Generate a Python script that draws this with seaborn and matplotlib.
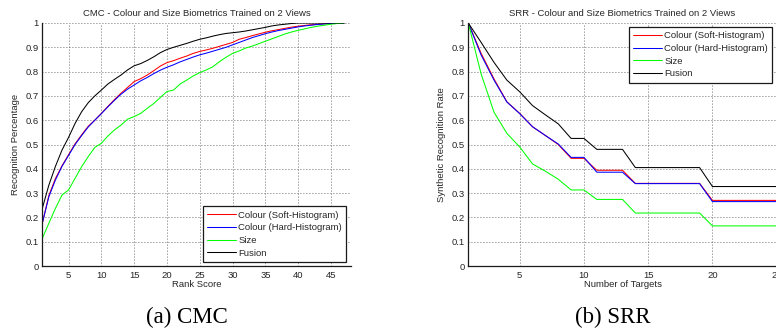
import numpy as np
import pandas as pd
import matplotlib
matplotlib.use("Agg")
import matplotlib.pyplot as plt
from matplotlib.lines import Line2D
import seaborn as sns

# ---------------- data ----------------
series_names = ["Colour (Soft-Histogram)", "Colour (Hard-Histogram)", "Size", "Fusion"]
series_colors = ["#ff0000", "#0000ff", "#00ff00", "#000000"]

cmc_rank = list(range(1, 48))
cmc_soft = [0.176, 0.29, 0.36, 0.412, 0.458, 0.503, 0.54, 0.575, 0.60, 0.628,
            0.657, 0.685, 0.711, 0.735, 0.759, 0.771, 0.786, 0.804, 0.823, 0.837,
            0.845, 0.855, 0.864, 0.875, 0.883, 0.889, 0.896, 0.904, 0.912, 0.92,
            0.933, 0.94, 0.948, 0.955, 0.962, 0.968, 0.973, 0.978, 0.983, 0.987,
            0.99, 0.993, 0.995, 0.997, 0.998, 0.999, 1.0]
cmc_hard = [0.176, 0.285, 0.354, 0.41, 0.455, 0.50, 0.537, 0.572, 0.60, 0.627,
            0.655, 0.682, 0.707, 0.728, 0.745, 0.762, 0.776, 0.792, 0.806, 0.818,
            0.828, 0.84, 0.85, 0.86, 0.869, 0.876, 0.884, 0.892, 0.90, 0.91,
            0.92, 0.93, 0.94, 0.948, 0.956, 0.963, 0.969, 0.974, 0.979, 0.984,
            0.988, 0.991, 0.994, 0.996, 0.998, 0.999, 1.0]
cmc_size = [0.114, 0.176, 0.237, 0.292, 0.313, 0.361, 0.409, 0.45, 0.488, 0.505,
            0.535, 0.56, 0.58, 0.604, 0.615, 0.628, 0.649, 0.669, 0.694, 0.718,
            0.724, 0.749, 0.765, 0.782, 0.796, 0.807, 0.82, 0.841, 0.859, 0.875,
            0.885, 0.897, 0.905, 0.915, 0.925, 0.935, 0.945, 0.955, 0.963, 0.97,
            0.976, 0.982, 0.987, 0.991, 0.995, 0.998, 1.0]
cmc_fusion = [0.237, 0.333, 0.41, 0.477, 0.529, 0.587, 0.635, 0.672, 0.70, 0.724,
              0.749, 0.768, 0.786, 0.807, 0.824, 0.833, 0.846, 0.861, 0.878, 0.891,
              0.90, 0.908, 0.916, 0.925, 0.933, 0.939, 0.946, 0.952, 0.957, 0.96,
              0.963, 0.967, 0.972, 0.977, 0.982, 0.988, 0.992, 0.995, 0.998, 1.0,
              1.0, 1.0, 1.0, 1.0, 1.0, 1.0, 1.0]

srr_targets = list(range(1, 26))
srr_soft = [1.0, 0.875, 0.77, 0.676, 0.628, 0.573, 0.537, 0.50, 0.443, 0.443,
            0.394, 0.394, 0.394, 0.34, 0.34, 0.34, 0.34, 0.34, 0.34,
            0.27, 0.27, 0.27, 0.27, 0.27, 0.27]
srr_hard = [1.0, 0.868, 0.765, 0.675, 0.627, 0.573, 0.537, 0.502, 0.447, 0.447,
            0.386, 0.386, 0.386, 0.339, 0.339, 0.339, 0.339, 0.339, 0.339,
            0.265, 0.265, 0.265, 0.265, 0.265, 0.265]
srr_size = [1.0, 0.79, 0.633, 0.546, 0.49, 0.42, 0.39, 0.357, 0.313, 0.313,
            0.274, 0.274, 0.274, 0.218, 0.218, 0.218, 0.218, 0.218, 0.218,
            0.165, 0.165, 0.165, 0.165, 0.165, 0.165]
srr_fusion = [1.0, 0.92, 0.838, 0.765, 0.717, 0.66, 0.622, 0.585, 0.525, 0.525,
              0.48, 0.48, 0.48, 0.405, 0.405, 0.405, 0.405, 0.405, 0.405,
              0.327, 0.327, 0.327, 0.327, 0.327, 0.327]

y_ticks = [0, 0.1, 0.2, 0.3, 0.4, 0.5, 0.6, 0.7, 0.8, 0.9, 1]
y_tick_labels = ["0", "0.1", "0.2", "0.3", "0.4", "0.5", "0.6", "0.7", "0.8", "0.9", "1"]
cmc_x_ticks = [5, 10, 15, 20, 25, 30, 35, 40, 45]
srr_x_ticks = [5, 10, 15, 20, 25]

# ---------------- style ----------------
sns.set_theme(style="white")
plt.rcParams["font.family"] = ["Liberation Sans", "DejaVu Sans"]
FS = 6.8
TXT = "#262626"
LW = 0.75

W, H = 776, 332
fig = plt.figure(figsize=(W / 100, H / 100), dpi=100)


def long_df(x, cols):
    frames = []
    for name, vals in zip(series_names, cols):
        frames.append(pd.DataFrame({"x": x, "y": vals, "series": name}))
    return pd.concat(frames, ignore_index=True)


def make_axes(left_px, title, xlabel, ylabel, df, xlim, xticks, legend_loc):
    ax = fig.add_axes([left_px / W, (H - 266) / H, 308.4 / W, 243 / H])
    sns.lineplot(data=df, x="x", y="y", hue="series", hue_order=series_names,
                 palette=series_colors, ax=ax, legend=False, linewidth=LW,
                 errorbar=None, sort=False)
    ax.set_xlim(*xlim)
    ax.set_ylim(0, 1)
    ax.set_xticks(xticks)
    ax.set_xticklabels([str(t) for t in xticks])
    ax.set_yticks(y_ticks)
    ax.set_yticklabels(y_tick_labels)
    ax.grid(True, linestyle=(0, (1, 2.6)), color="#3a3a3a", linewidth=0.6)
    for s in ["top", "right"]:
        ax.spines[s].set_visible(False)
    for s in ["left", "bottom"]:
        ax.spines[s].set_color("#1a1a1a")
        ax.spines[s].set_linewidth(0.9)
    ax.tick_params(direction="in", length=2.5, width=0.6, colors="#1a1a1a",
                   labelsize=FS, labelcolor=TXT, pad=2.5)
    ax.tick_params(axis="x", pad=3.5)
    ax.set_title(title, fontsize=FS, color=TXT, pad=5)
    ax.set_xlabel(xlabel, fontsize=FS, color=TXT)
    ax.set_ylabel(ylabel, fontsize=FS, color=TXT)
    ax.xaxis.set_label_coords(0.5, -0.058)
    ax.yaxis.set_label_coords(-0.071, 0.5)
    handles = [Line2D([0], [0], color=c, linewidth=LW) for c in series_colors]
    leg = ax.legend(handles, series_names, loc=legend_loc, fontsize=FS,
                    frameon=True, fancybox=False, framealpha=1,
                    edgecolor="#1a1a1a", borderaxespad=0.45, borderpad=0.45,
                    handlelength=3.0, handletextpad=0.3, labelspacing=0.38)
    leg.get_frame().set_linewidth(0.9)
    for t in leg.get_texts():
        t.set_color(TXT)
    return ax


cmc_df = long_df(cmc_rank, [cmc_soft, cmc_hard, cmc_size, cmc_fusion])
srr_df = long_df(srr_targets, [srr_soft, srr_hard, srr_size, srr_fusion])

make_axes(42.3, "CMC - Colour and Size Biometrics Trained on 2 Views",
          "Rank Score", "Recognition Percentage", cmc_df, (1, 48),
          cmc_x_ticks, "lower right")
make_axes(468.3, "SRR - Colour and Size Biometrics Trained on 2 Views",
          "Number of Targets", "Synthetic Recognition Rate", srr_df, (1, 25),
          srr_x_ticks, "upper right")

fig.text(186.7 / W, 1 - 317 / H, "(a) CMC", family=["Liberation Serif", "DejaVu Serif"],
         fontsize=16.5, ha="center", va="center", color="black")
fig.text(612.7 / W, 1 - 317 / H, "(b) SRR", family=["Liberation Serif", "DejaVu Serif"],
         fontsize=16.5, ha="center", va="center", color="black")

fig.savefig("out.png", dpi=100)
